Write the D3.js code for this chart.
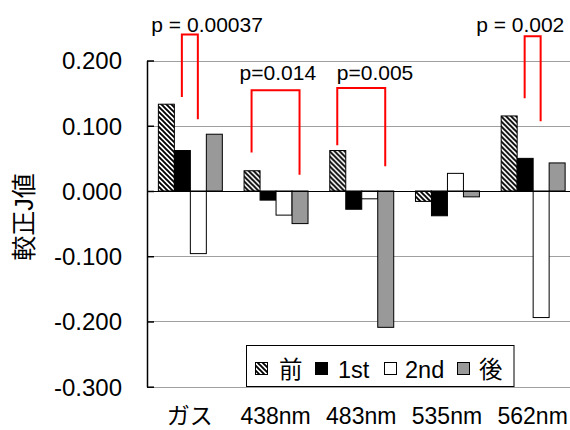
<!DOCTYPE html>
<html>
<head>
<meta charset="utf-8">
<script src="https://cdn.jsdelivr.net/npm/d3@7"></script>
<style>
  html, body { margin: 0; padding: 0; background: #fff; }
  svg { display: block; }
  text { font-family: "Liberation Sans", Arial, "Noto Sans CJK JP", sans-serif; fill: #000; }
</style>
</head>
<body>
<svg id="chart" width="570" height="430"></svg>
<script>
// ---- data ----
const categories = ["ガス", "438nm", "483nm", "535nm", "562nm"];
const seriesNames = ["前", "1st", "2nd", "後"];
const valuesMae = [0.133, 0.031, 0.062, -0.016, 0.115];
const values1st = [0.062, -0.014, -0.028, -0.038, 0.050];
const values2nd = [-0.096, -0.037, -0.012, 0.027, -0.194];
const valuesAto = [0.087, -0.050, -0.209, -0.009, 0.043];
const yTickValues = [0.2, 0.1, 0.0, -0.1, -0.2, -0.3];
const yAxisTitle = "較正J値";

// significance brackets (data units)
const bracketCats   = ["ガス", "438nm", "483nm", "562nm"];
const bracketFrom   = ["1st", "前", "前", "1st"];
const bracketTo     = ["2nd", "後", "後", "2nd"];
const bracketTop    = [0.240, 0.1545, 0.158, 0.237];
const bracketEndA   = [0.144, 0.059, 0.070, 0.142];
const bracketEndB   = [0.110, 0.025, 0.038, 0.107];
const bracketLabels = ["p = 0.00037", "p=0.014", "p=0.005", "p = 0.002"];

// ---- layout / style ----
const plot = { left: 147, right: 575.5, top: 60.5, bottom: 386.7 };
const labelDx = [-30.5, -12, -0.5, -48.5];
const labelDy = [-2.3, -10, -7.7, -4];
const fills = { "前": "url(#hatch)", "1st": "#000000", "2nd": "#ffffff", "後": "#999999" };

const svg = d3.select("#chart");
const defs = svg.append("defs");
const pat = defs.append("pattern")
  .attr("id", "hatch").attr("patternUnits", "userSpaceOnUse")
  .attr("width", 5).attr("height", 5);
pat.append("rect").attr("width", 5).attr("height", 5).attr("fill", "#fff");
pat.append("path").attr("d", "M-1,-1 L6,6 M-1,4 L1,6 M4,-1 L6,1")
  .attr("stroke", "#000").attr("stroke-width", 1.9);

const x = d3.scaleBand().domain(categories).range([plot.left, plot.right]).paddingInner(0).paddingOuter(0);
const xs = d3.scaleBand().domain(seriesNames).range([0, x.bandwidth()]).paddingInner(0).paddingOuter(0.68);
const y = d3.scaleLinear().domain([-0.3, 0.2]).range([plot.bottom, plot.top]);

const table = categories.map((c, i) => ({
  cat: c,
  vals: [
    { s: "前", v: valuesMae[i] },
    { s: "1st", v: values1st[i] },
    { s: "2nd", v: values2nd[i] },
    { s: "後", v: valuesAto[i] }
  ]
}));

// gridlines
svg.append("g").selectAll("line").data(yTickValues.filter(v => v !== 0)).join("line")
  .attr("x1", plot.left).attr("x2", 570)
  .attr("y1", d => Math.round(y(d)) + 0.5).attr("y2", d => Math.round(y(d)) + 0.5)
  .attr("stroke", "#a0a0a0").attr("stroke-width", 1);

// bars
const groups = svg.append("g").selectAll("g").data(table).join("g")
  .attr("transform", d => `translate(${x(d.cat)},0)`);
groups.selectAll("rect").data(d => d.vals).join("rect")
  .attr("x", d => xs(d.s) + 0.5)
  .attr("width", xs.bandwidth())
  .attr("y", d => Math.min(y(d.v), y(0)))
  .attr("height", d => Math.abs(y(d.v) - y(0)))
  .attr("fill", d => fills[d.s])
  .attr("stroke", "#000").attr("stroke-width", 1);

// zero line
svg.append("line").attr("x1", plot.left).attr("x2", 570)
  .attr("y1", Math.round(y(0)) + 0.5).attr("y2", Math.round(y(0)) + 0.5)
  .attr("stroke", "#000").attr("stroke-width", 1.2);

// y axis
const fmt = d3.format(".3f");
const yAxis = d3.axisLeft(y).tickValues(yTickValues).tickFormat(d => fmt(d).replace("\u2212", "-"))
  .tickSizeInner(-7).tickSizeOuter(0).tickPadding(25);
const ga = svg.append("g").attr("transform", `translate(${plot.left},0)`).call(yAxis);
ga.select(".domain").attr("stroke", "#000").attr("stroke-width", 1.5);
ga.selectAll(".tick line").attr("stroke", "#000").attr("stroke-width", 1.5);
ga.selectAll(".tick text").attr("font-size", 24).attr("font-family", '"Liberation Sans", Arial, sans-serif')
  .attr("fill", "#000").attr("dy", "0.35em");

// y title
svg.append("text").attr("transform", "translate(33,217) rotate(-90)")
  .attr("text-anchor", "middle").attr("font-size", 25).text(yAxisTitle);

// category labels
svg.append("g").selectAll("text").data(categories).join("text")
  .attr("x", d => x(d) + x.bandwidth() / 2).attr("y", 424)
  .attr("text-anchor", "middle").attr("font-size", 23).text(d => d);

// brackets
bracketCats.forEach((c, i) => {
  const xa = x(c) + xs(bracketFrom[i]) + xs.bandwidth() / 2;
  const xb = x(c) + xs(bracketTo[i]) + xs.bandwidth() / 2;
  const yt = y(bracketTop[i]);
  svg.append("path")
    .attr("d", `M${xa},${y(bracketEndA[i])} L${xa},${yt} L${xb},${yt} L${xb},${y(bracketEndB[i])}`)
    .attr("fill", "none").attr("stroke", "#ff0000").attr("stroke-width", 2);
  svg.append("text").attr("x", xa + labelDx[i]).attr("y", yt + labelDy[i])
    .attr("font-size", 21).text(bracketLabels[i]);
});

// legend
const lg = svg.append("g");
lg.append("rect").attr("x", 246.5).attr("y", 345.5).attr("width", 267.5).attr("height", 41)
  .attr("fill", "#fff").attr("stroke", "#000").attr("stroke-width", 1);
const legSymX = [255, 315, 384, 457];
const legTxtX = [279, 338, 405, 479];
seriesNames.forEach((s, i) => {
  lg.append("rect").attr("x", legSymX[i] + 0.5).attr("y", 362.5).attr("width", 12).attr("height", 12)
    .attr("fill", fills[s]).attr("stroke", "#000").attr("stroke-width", 1);
  lg.append("text").attr("x", legTxtX[i]).attr("y", 377.5).attr("font-size", 23.5).text(s);
});
</script>
</body>
</html>
